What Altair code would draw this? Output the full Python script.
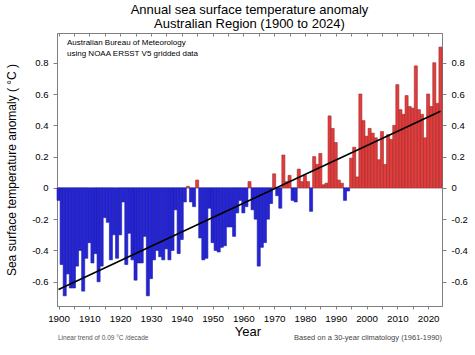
import altair as alt
import pandas as pd

years = list(range(1900, 2025))
anomaly = [
    -0.08, -0.49, -0.69, -0.55, -0.64, -0.64, -0.50, -0.40, -0.66, -0.45,   # 1900s
    -0.35, -0.48, -0.42, -0.60, -0.50, -0.19, -0.22, -0.46, -0.30, -0.45,   # 1910s
    -0.30, -0.09, -0.49, -0.29, -0.46, -0.59, -0.48, -0.48, -0.31, -0.69,   # 1920s
    -0.58, -0.46, -0.40, -0.44, -0.46, -0.39, -0.46, -0.40, -0.14, -0.42,   # 1930s
    -0.33, -0.09, 0.01, -0.09, -0.12, 0.05, -0.32, -0.46, -0.45, -0.13,     # 1940s
    -0.35, -0.40, -0.41, -0.38, -0.37, -0.25, -0.25, -0.31, -0.16, -0.08,   # 1950s
    -0.16, -0.12, 0.04, -0.14, -0.20, -0.50, -0.38, -0.35, -0.20, -0.10,    # 1960s
    0.09, -0.05, -0.13, 0.21, 0.04, 0.08, -0.08, -0.09, 0.12, 0.04,         # 1970s
    0.08, 0.04, -0.15, 0.20, 0.15, 0.22, 0.02, 0.03, 0.46, 0.38,            # 1980s
    0.29, 0.05, 0.03, -0.08, -0.02, 0.19, 0.26, 0.07, 0.60, 0.43,           # 1990s
    0.33, 0.38, 0.35, 0.32, 0.18, 0.36, 0.15, 0.34, 0.31, 0.40,             # 2000s
    0.66, 0.50, 0.47, 0.59, 0.52, 0.51, 0.78, 0.50, 0.47, 0.32,             # 2010s
    0.60, 0.52, 0.80, 0.54, 0.90,                                           # 2020s
]
trend_years = [1900, 2024]
trend_values = [-0.65, 0.49]

title_lines = ["Annual sea surface temperature anomaly", "Australian Region (1900 to 2024)"]
y_title = "Sea surface temperature anomaly ( °C )"
x_title = "Year"
note_source_1 = "Australian Bureau of Meteorology"
note_source_2 = "using NOAA ERSST V5 gridded data"
note_trend = "Linear trend of 0.09 °C /decade"
note_clim = "Based on a 30-year climatology (1961-1990)"

y_ticks = [-0.6, -0.4, -0.2, 0, 0.2, 0.4, 0.6, 0.8]
x_ticks = list(range(1900, 2025, 5))

df = pd.DataFrame({"year": years, "anomaly": anomaly})
df["sign"] = ["pos" if v >= 0 else "neg" for v in anomaly]
trend_df = pd.DataFrame({"year": trend_years, "value": trend_values})

FONT = "Liberation Sans"
W, H = 385, 273
xscale = alt.Scale(domain=[1899.5, 2024.5], nice=False, zero=False)
yscale = alt.Scale(domain=[-0.755, 0.99], nice=False, zero=False)

left_axis = alt.Axis(
    values=y_ticks, labelExpr="toString(datum.value)", grid=False,
    tickSize=4, labelPadding=5, labelFontSize=9.5,
    title=y_title, titleFontSize=12, titleFontWeight="normal", titleAngle=270,
    titleX=-46, titleY=H / 2, titleAlign="center", titleBaseline="middle",
)
right_axis = alt.Axis(
    orient="right", values=y_ticks, labelExpr="toString(datum.value)", grid=False,
    tickSize=4, labelPadding=5, labelFontSize=9.5, title=None,
)
bottom_axis = alt.Axis(
    values=x_ticks, labelExpr="datum.value % 10 == 0 ? toString(datum.value) : ''",
    grid=False, tickSize=3, labelPadding=4, labelFontSize=9.8, labelFlush=False,
    title=x_title, titleFontSize=13, titleFontWeight="normal",
    titleX=W / 2 - 2, titleY=25, titleAlign="center", titleBaseline="middle",
)
top_axis = alt.Axis(
    orient="top", values=x_ticks, labels=False, grid=False, domain=False,
    tickSize=3, offset=-3, title=None,
)

zero_line = alt.Chart(pd.DataFrame({"z": [0]})).mark_rule(
    color="#a9a9bd", strokeWidth=1
).encode(
    x=alt.value(0), x2=alt.value(W),
    y=alt.Y("z:Q", scale=yscale, axis=None),
)

bars = alt.Chart(df).transform_calculate(
    x0="datum.year - 0.5", x1="datum.year + 0.5"
).mark_rect(strokeWidth=0.6).encode(
    x=alt.X("x0:Q", scale=xscale, axis=bottom_axis),
    x2="x1:Q",
    y=alt.Y("anomaly:Q", scale=yscale, axis=left_axis),
    y2=alt.datum(0),
    color=alt.Color("sign:N", scale=alt.Scale(domain=["neg", "pos"], range=["#2525d6", "#e23c3c"]), legend=None),
    stroke=alt.Stroke("sign:N", scale=alt.Scale(domain=["neg", "pos"], range=["#1c1ca8", "#9e2b2b"]), legend=None),
)

trend = alt.Chart(trend_df).mark_line(color="black", strokeWidth=1.6).encode(
    x=alt.X("year:Q", scale=xscale, axis=top_axis),
    y=alt.Y("value:Q", scale=yscale, axis=right_axis),
)

def note(text, x, y, size, align="left", color="black"):
    return alt.Chart(pd.DataFrame({"t": [text]})).mark_text(
        align=align, baseline="middle", fontSize=size, font=FONT, color=color
    ).encode(text="t:N", x=alt.value(x), y=alt.value(y))

chart = alt.layer(
    zero_line, bars, trend,
    note(note_source_1, 10, 10, 8),
    note(note_source_2, 10, 21, 8),
    note(note_trend, 1, 305, 6.5, color="#555555"),
    note(note_clim, W, 305, 7.5, align="right", color="#444444"),
).resolve_axis(x="independent", y="independent").properties(
    width=W, height=H,
    title=alt.TitleParams(text=title_lines, fontSize=13, fontWeight="normal", font=FONT,
                          anchor="middle", offset=2, color="black", lineHeight=14),
    autosize=alt.AutoSizeParams(type="none"),
    padding={"left": 57, "top": 33, "right": 33, "bottom": 49},
).configure_view(stroke="#808080", strokeWidth=1).configure_axis(
    domainColor="#808080", tickColor="#808080", labelColor="black",
    labelFont=FONT, titleFont=FONT, titleColor="black",
)

chart.save("out.html", embed_options={"renderer": "svg", "actions": False})
